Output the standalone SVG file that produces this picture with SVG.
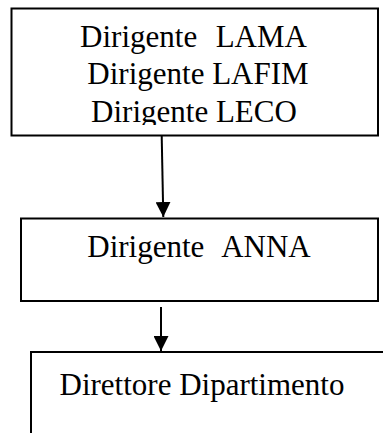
<svg xmlns="http://www.w3.org/2000/svg" width="383" height="433" viewBox="0 0 383 433">
  <style>
    .box { fill: #ffffff; stroke: #000000; stroke-width: 2; }
    .lbl { font-family: "Liberation Serif", "Times New Roman", serif; font-size: 31px; fill: #000000; text-anchor: middle; }
    .wide { word-spacing: 1.5px; }
    .conn { stroke: #000000; stroke-width: 2; fill: none; }
  </style>
  <defs>
    <marker id="arrow" viewBox="0 0 15 15" refX="15" refY="7.5" markerWidth="15" markerHeight="15" markerUnits="userSpaceOnUse" orient="auto">
      <path d="M0,0 L15,7.5 L0,15 z" fill="#000000"/>
    </marker>
    <clipPath id="clipTop">
      <rect x="12" y="9" width="366" height="116"/>
    </clipPath>
  </defs>
  <rect width="383" height="433" fill="#ffffff"/>
  <g id="node-dirigenti">
    <rect class="box" x="11.5" y="8.5" width="366.5" height="127"/>
    <g clip-path="url(#clipTop)">
      <text class="lbl wide" x="193.5" y="47" xml:space="preserve">Dirigente  LAMA</text>
      <text class="lbl" x="198" y="84">Dirigente LAFIM</text>
      <text class="lbl" x="194" y="121.5">Dirigente LECO</text>
    </g>
  </g>
  <g id="node-anna">
    <rect class="box" x="21" y="218.5" width="357" height="82.5"/>
    <text class="lbl wide" x="199" y="257" xml:space="preserve">Dirigente  ANNA</text>
  </g>
  <g id="node-direttore">
    <rect class="box" x="31" y="352" width="380" height="120"/>
    <text class="lbl" x="202" y="395">Direttore Dipartimento</text>
  </g>
  <g id="connectors">
    <line class="conn" x1="161.7" y1="136" x2="163.3" y2="217" marker-end="url(#arrow)"/>
    <line class="conn" x1="161" y1="307" x2="161" y2="351" marker-end="url(#arrow)"/>
  </g>
</svg>
